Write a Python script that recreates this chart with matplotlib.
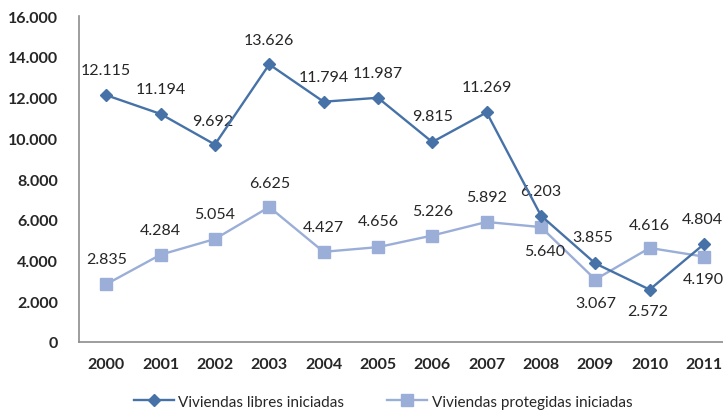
import numpy as np
import matplotlib
matplotlib.use("Agg")
import matplotlib.pyplot as plt

plt.rcParams['font.family'] = ['Lato', 'DejaVu Sans']

# Data
years = ["2000", "2001", "2002", "2003", "2004", "2005",
         "2006", "2007", "2008", "2009", "2010", "2011"]
libres = [12115, 11194, 9692, 13626, 11794, 11987,
          9815, 11269, 6203, 3855, 2572, 4804]
protegidas = [2835, 4284, 5054, 6625, 4427, 4656,
              5226, 5892, 5640, 3067, 4616, 4190]
y_ticks = [0, 2000, 4000, 6000, 8000, 10000, 12000, 14000, 16000]

# label placement (pixel offsets from the point)
libres_off = [(0, 25), (0, 25), (-2, 24), (0, 24), (0, 25), (0, 25),
              (0, 26), (0, 25), (0, 25), (-3, 26), (-2, -21), (-2, 25)]
proteg_off = [(0, 25), (0, 25), (0, 25), (0, 24), (0, 25), (0, 26),
              (0, 25), (0, 25), (4, -24), (0, -23), (0, 23), (-1, -22)]

TEXT = "#262626"
DARK = "#4672a8"
LIGHT = "#9aaed8"


def fmt(v):
    return f"{v:,}".replace(",", ".")


fig = plt.figure(figsize=(7.23, 4.14), dpi=100)
ax = fig.add_axes([0.1093, 0.1715, 0.902, 0.7874])

x = np.arange(len(years))
ax.plot(x, protegidas, color=LIGHT, lw=1.7, marker="s", ms=8,
        mfc=LIGHT, mec=LIGHT, label="Viviendas protegidas iniciadas", zorder=3)
ax.plot(x, libres, color=DARK, lw=1.7, marker="D", ms=6.5,
        mfc=DARK, mec=DARK, label="Viviendas libres iniciadas", zorder=4)

for xi, v, off in zip(x, libres, libres_off):
    ax.annotate(fmt(v), (xi, v), xytext=off, textcoords="offset pixels",
                ha="center", va="center", fontsize=11.5, color=TEXT)
for xi, v, off in zip(x, protegidas, proteg_off):
    ax.annotate(fmt(v), (xi, v), xytext=off, textcoords="offset pixels",
                ha="center", va="center", fontsize=11.5, color=TEXT)

ax.set_xlim(-0.5, len(years) - 0.5)
ax.set_ylim(0, 16000)
ax.set_yticks(y_ticks)
ax.set_yticklabels([fmt(v) for v in y_ticks], fontsize=11.5,
                   fontweight="bold", color=TEXT)
ax.set_xticks(x)
ax.set_xticklabels(years, fontsize=11.5, fontweight="bold", color=TEXT)
ax.tick_params(axis="both", length=0)
ax.tick_params(axis="y", pad=15)
ax.tick_params(axis="x", pad=11)

for side in ("top", "right"):
    ax.spines[side].set_visible(False)
for side in ("left", "bottom"):
    ax.spines[side].set_color("#8c8c8c")
    ax.spines[side].set_linewidth(1.2)

h, l = ax.get_legend_handles_labels()
leg = fig.legend(h[::-1], l[::-1], loc="center", bbox_to_anchor=(0.53, 0.027),
                 ncol=2, frameon=False, fontsize=11, handlelength=2.6,
                 columnspacing=2.8, handletextpad=0.3)
for t in leg.get_texts():
    t.set_color(TEXT)

fig.savefig("out.png", dpi=100)
